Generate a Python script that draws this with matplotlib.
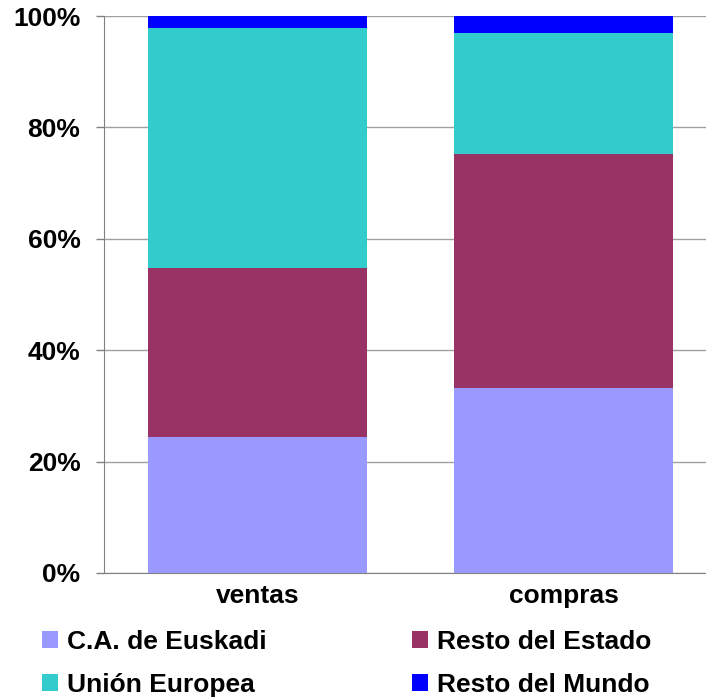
import matplotlib
matplotlib.use("Agg")
import matplotlib.pyplot as plt
import numpy as np

categories = ["ventas", "compras"]
series_names = ["C.A. de Euskadi", "Resto del Estado", "Unión Europea", "Resto del Mundo"]
euskadi = [24.4, 33.2]
resto_estado = [30.4, 42.0]
union_europea = [43.0, 21.7]
resto_mundo = [2.2, 3.1]
colors = ["#9999ff", "#993366", "#33cccc", "#0000ff"]
yticks = [0, 20, 40, 60, 80, 100]
ytick_labels = ["0%", "20%", "40%", "60%", "80%", "100%"]

plt.rcParams['font.family'] = ['Liberation Sans', 'DejaVu Sans']
plt.rcParams['font.weight'] = 'bold'

fig = plt.figure(figsize=(7.06, 6.98), dpi=100)
ax = fig.add_axes([104/706, 1-573/698, 613/706, 557/698])

x = np.arange(len(categories))
bottom = np.zeros(len(categories))
handles = []
for name, vals, c in zip(series_names, [euskadi, resto_estado, union_europea, resto_mundo], colors):
    b = ax.bar(x, vals, width=0.715, bottom=bottom, color=c, label=name, zorder=3)
    handles.append(b)
    bottom += np.array(vals)

ax.set_xlim(-0.5, 1.5)
ax.set_ylim(0, 100)
ax.set_yticks(yticks)
ax.set_yticklabels(ytick_labels, fontsize=19, fontweight='bold')
ax.set_xticks(x)
ax.set_xticklabels(categories, fontsize=19, fontweight='bold')
ax.tick_params(axis='x', length=0, pad=8)
ax.tick_params(axis='y', length=6, width=1, color='#808080', pad=11, direction='out')
ax.yaxis.grid(True, color='#a0a0a0', lw=1, zorder=0)
ax.set_axisbelow(True)
for s in ['top', 'right']:
    ax.spines[s].set_visible(False)
ax.spines['left'].set_color('#808080')
ax.spines['bottom'].set_color('#808080')

order = [0, 2, 1, 3]
leg = fig.legend([handles[i] for i in order], [series_names[i] for i in order],
                 ncol=2, loc='upper left', bbox_to_anchor=(42/706, 1-630/698),
                 frameon=False, prop={'weight': 'bold', 'size': 19},
                 handlelength=0.6, handleheight=0.6, handletextpad=0.35,
                 columnspacing=5.5, labelspacing=0.72, borderpad=0, borderaxespad=0)

fig.savefig("out.png", dpi=100)
